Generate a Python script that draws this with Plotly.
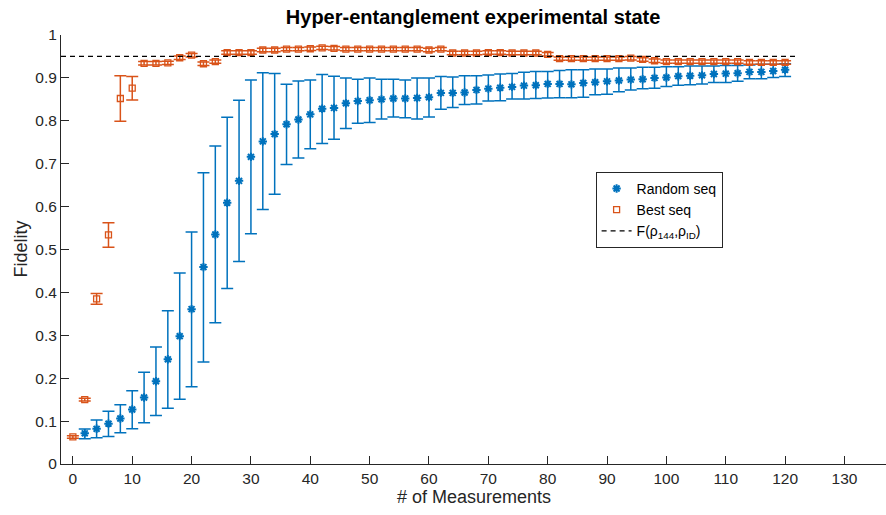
import plotly.graph_objects as go

# ---------------- data ----------------
rand_x = list(range(2, 121, 2))
rand_mean = [0.0715, 0.082, 0.094, 0.106, 0.127, 0.155, 0.193, 0.244, 0.298, 0.361,
             0.459, 0.535, 0.609, 0.660, 0.716, 0.752, 0.769, 0.792, 0.803, 0.815,
             0.828, 0.830, 0.841, 0.846, 0.848, 0.850, 0.852, 0.852, 0.853, 0.855,
             0.865, 0.865, 0.866, 0.872, 0.875, 0.877, 0.879, 0.882, 0.883, 0.886,
             0.886, 0.885, 0.888, 0.890, 0.892, 0.894, 0.896, 0.897, 0.900, 0.901,
             0.904, 0.905, 0.906, 0.909, 0.910, 0.911, 0.914, 0.914, 0.916, 0.919]
rand_upper = [0.0816, 0.1025, 0.123, 0.138, 0.171, 0.214, 0.273, 0.357, 0.445, 0.541,
              0.679, 0.741, 0.808, 0.848, 0.895, 0.912, 0.910, 0.885, 0.893, 0.895,
              0.908, 0.904, 0.900, 0.897, 0.900, 0.897, 0.897, 0.895, 0.900, 0.900,
              0.903, 0.902, 0.905, 0.905, 0.907, 0.909, 0.910, 0.913, 0.915, 0.915,
              0.917, 0.919, 0.919, 0.921, 0.921, 0.923, 0.923, 0.925, 0.925, 0.926,
              0.926, 0.928, 0.928, 0.928, 0.929, 0.929, 0.930, 0.932, 0.932, 0.933]
rand_lower = [0.059, 0.061, 0.064, 0.073, 0.082, 0.096, 0.113, 0.130, 0.151, 0.180,
              0.238, 0.329, 0.409, 0.472, 0.537, 0.593, 0.629, 0.698, 0.713, 0.735,
              0.747, 0.757, 0.782, 0.794, 0.796, 0.804, 0.809, 0.807, 0.804, 0.809,
              0.827, 0.831, 0.838, 0.839, 0.846, 0.847, 0.851, 0.851, 0.852, 0.853,
              0.854, 0.854, 0.855, 0.861, 0.862, 0.868, 0.872, 0.875, 0.876, 0.880,
              0.883, 0.884, 0.886, 0.889, 0.889, 0.892, 0.898, 0.898, 0.901, 0.903]

best_x = list(range(0, 121, 2))
best_mean = [0.063, 0.150, 0.385, 0.534, 0.852, 0.876, 0.934, 0.934, 0.935, 0.947,
             0.953, 0.933, 0.938, 0.959, 0.959, 0.959, 0.965, 0.965, 0.967, 0.967,
             0.968, 0.970, 0.969, 0.967, 0.967, 0.967, 0.967, 0.967, 0.967, 0.967,
             0.965, 0.967, 0.958, 0.958, 0.958, 0.959, 0.959, 0.958, 0.958, 0.958,
             0.955, 0.945, 0.945, 0.945, 0.945, 0.945, 0.945, 0.946, 0.943, 0.940,
             0.938, 0.938, 0.938, 0.938, 0.938, 0.938, 0.938, 0.936, 0.936, 0.936,
             0.936]
best_err = [0.003, 0.003, 0.0125, 0.0285, 0.053, 0.0275] + [0.004] * 55

ref_x = [-2, 122]
ref_y = [0.95, 0.95]

x_ticks = list(range(0, 131, 10))
y_ticks = [round(0.1 * i, 1) for i in range(11)]

BLUE = "#0072BD"
RED = "#D95319"
AX = "#262626"

fig = go.Figure()

fig.add_trace(go.Scatter(
    x=rand_x, y=rand_mean, mode="markers", name="Random seq",
    marker=dict(symbol="asterisk-open", size=7, color=BLUE,
                line=dict(color=BLUE, width=2)),
    error_y=dict(type="data", symmetric=False,
                 array=[u - m for u, m in zip(rand_upper, rand_mean)],
                 arrayminus=[m - l for m, l in zip(rand_mean, rand_lower)],
                 color=BLUE, thickness=1.5, width=6),
))

fig.add_trace(go.Scatter(
    x=best_x, y=best_mean, mode="markers", name="Best seq",
    marker=dict(symbol="square-open", size=6, color=RED,
                line=dict(color=RED, width=1.3)),
    error_y=dict(type="data", array=best_err, color=RED, thickness=1.5, width=6),
))

fig.add_trace(go.Scatter(
    x=ref_x, y=ref_y, mode="lines", name="F(ρ<sub>144</sub>,ρ<sub>ID</sub>)",
    line=dict(color="black", width=1.2, dash="5px,4px"),
))

fig.update_layout(
    width=886, height=515,
    margin=dict(l=61, r=0, t=35, b=51),
    paper_bgcolor="white", plot_bgcolor="white",
    font=dict(family="Liberation Sans, Arial, sans-serif", size=15, color=AX),
    title=dict(text="<b>Hyper-entanglement experimental state</b>",
               x=0.534, xanchor="center", y=1 - 17 / 515, yanchor="middle",
               yref="container", font=dict(size=20, color="black")),
    showlegend=True,
    legend=dict(x=0.648, y=0.681, xanchor="left", yanchor="top",
                bgcolor="white", bordercolor=AX, borderwidth=1,
                font=dict(size=14, color="black"), itemwidth=30,
                tracegroupgap=0),
    xaxis=dict(range=[-2, 137], tickvals=x_ticks, ticks="inside", ticklen=8,
               tickcolor=AX, showline=True, linecolor=AX, linewidth=1,
               showgrid=False, zeroline=False, mirror=False,
               tickfont=dict(size=15.5, color=AX)),
    yaxis=dict(range=[0, 1], tickvals=y_ticks, ticks="inside", ticklen=8,
               tickcolor=AX, showline=True, linecolor=AX, linewidth=1,
               showgrid=False, zeroline=False, mirror=False,
               tickfont=dict(size=15.5, color=AX)),
    annotations=[
        dict(text="# of Measurements", xref="paper", yref="paper",
             x=0.5, y=(464 - 497) / 429, xanchor="center", yanchor="middle",
             showarrow=False, font=dict(size=18, color=AX)),
        dict(text="Fidelity", xref="paper", yref="paper",
             x=(20 - 61) / 825, y=0.5, xanchor="center", yanchor="middle",
             textangle=-90, showarrow=False, font=dict(size=18, color=AX)),
    ],
)

fig.write_html("out.html")
